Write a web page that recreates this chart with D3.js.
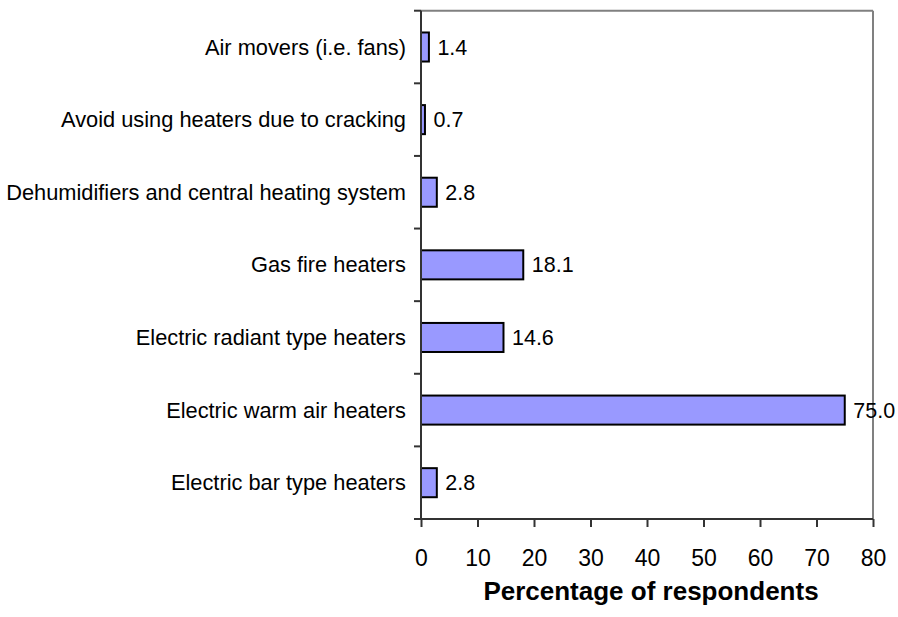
<!DOCTYPE html>
<html><head><meta charset="utf-8">
<script src="https://cdn.jsdelivr.net/npm/d3@7"></script>
<style>body{margin:0;background:#fff;} svg{display:block;font-family:"Liberation Sans",Arial,sans-serif;}</style>
</head><body>
<svg id="c" width="898" height="617"></svg>
<script>
const categories = ["Air movers (i.e. fans)","Avoid using heaters due to cracking","Dehumidifiers and central heating system","Gas fire heaters","Electric radiant type heaters","Electric warm air heaters","Electric bar type heaters"];
const values = [1.4, 0.7, 2.8, 18.1, 14.6, 75.0, 2.8];
const valueLabels = ["1.4","0.7","2.8","18.1","14.6","75.0","2.8"];
const xTicks = [0,10,20,30,40,50,60,70,80];
const xTitle = "Percentage of respondents";

const svg = d3.select("#c");
const L = 421, R = 873, T = 10.7, B = 519;
const x = d3.scaleLinear().domain([0,80]).range([L,R]);
const y = d3.scaleBand().domain(categories).range([T,B]).paddingInner(0.6).paddingOuter(0.3);

// plot border top/right
svg.append("line").attr("x1",L).attr("x2",R).attr("y1",T).attr("y2",T).attr("stroke","#808080").attr("stroke-width",2);
svg.append("line").attr("x1",R).attr("x2",R).attr("y1",T).attr("y2",B).attr("stroke","#808080").attr("stroke-width",2);

// bars
svg.selectAll("rect.bar").data(categories).enter().append("rect")
  .attr("x",x(0)).attr("y",d=>y(d))
  .attr("width",(d,i)=>x(values[i])-x(0)).attr("height",y.bandwidth())
  .attr("fill","#9999FF").attr("stroke","#000").attr("stroke-width",2);

// value labels
svg.selectAll("text.val").data(categories).enter().append("text")
  .attr("x",(d,i)=>x(values[i])+8.5).attr("y",d=>y(d)+y.bandwidth()/2)
  .attr("dy","0.35em").attr("font-size",21.5).attr("fill","#000")
  .text((d,i)=>valueLabels[i]);

// y axis
const bounds = d3.range(categories.length+1).map(i=>T+i*(B-T)/categories.length);
svg.append("line").attr("x1",L).attr("x2",L).attr("y1",T).attr("y2",B).attr("stroke","#333").attr("stroke-width",2);
svg.selectAll("line.yt").data(bounds).enter().append("line")
  .attr("x1",L-7).attr("x2",L).attr("y1",d=>d).attr("y2",d=>d).attr("stroke","#333").attr("stroke-width",2);
svg.selectAll("text.cat").data(categories).enter().append("text")
  .attr("x",L-15).attr("y",d=>y(d)+y.bandwidth()/2).attr("dy","0.35em")
  .attr("text-anchor","end").attr("font-size",21.8).attr("fill","#000").text(d=>d);

// x axis
const xa = svg.append("g").attr("transform",`translate(0,${B})`)
  .call(d3.axisBottom(x).tickValues(xTicks).tickSize(8).tickPadding(23).tickSizeOuter(0));
xa.select(".domain").attr("stroke","#333").attr("stroke-width",2).attr("d",`M${L-7},0H${R}`);
xa.selectAll(".tick line").attr("stroke","#333").attr("stroke-width",2);
xa.selectAll(".tick text").attr("font-size",23).attr("fill","#000").attr("font-family","Liberation Sans, Arial, sans-serif");

svg.append("text").attr("x",651).attr("y",600).attr("text-anchor","middle")
  .attr("font-size",26).attr("font-weight","bold").attr("fill","#000").text(xTitle);
</script>
</body></html>
